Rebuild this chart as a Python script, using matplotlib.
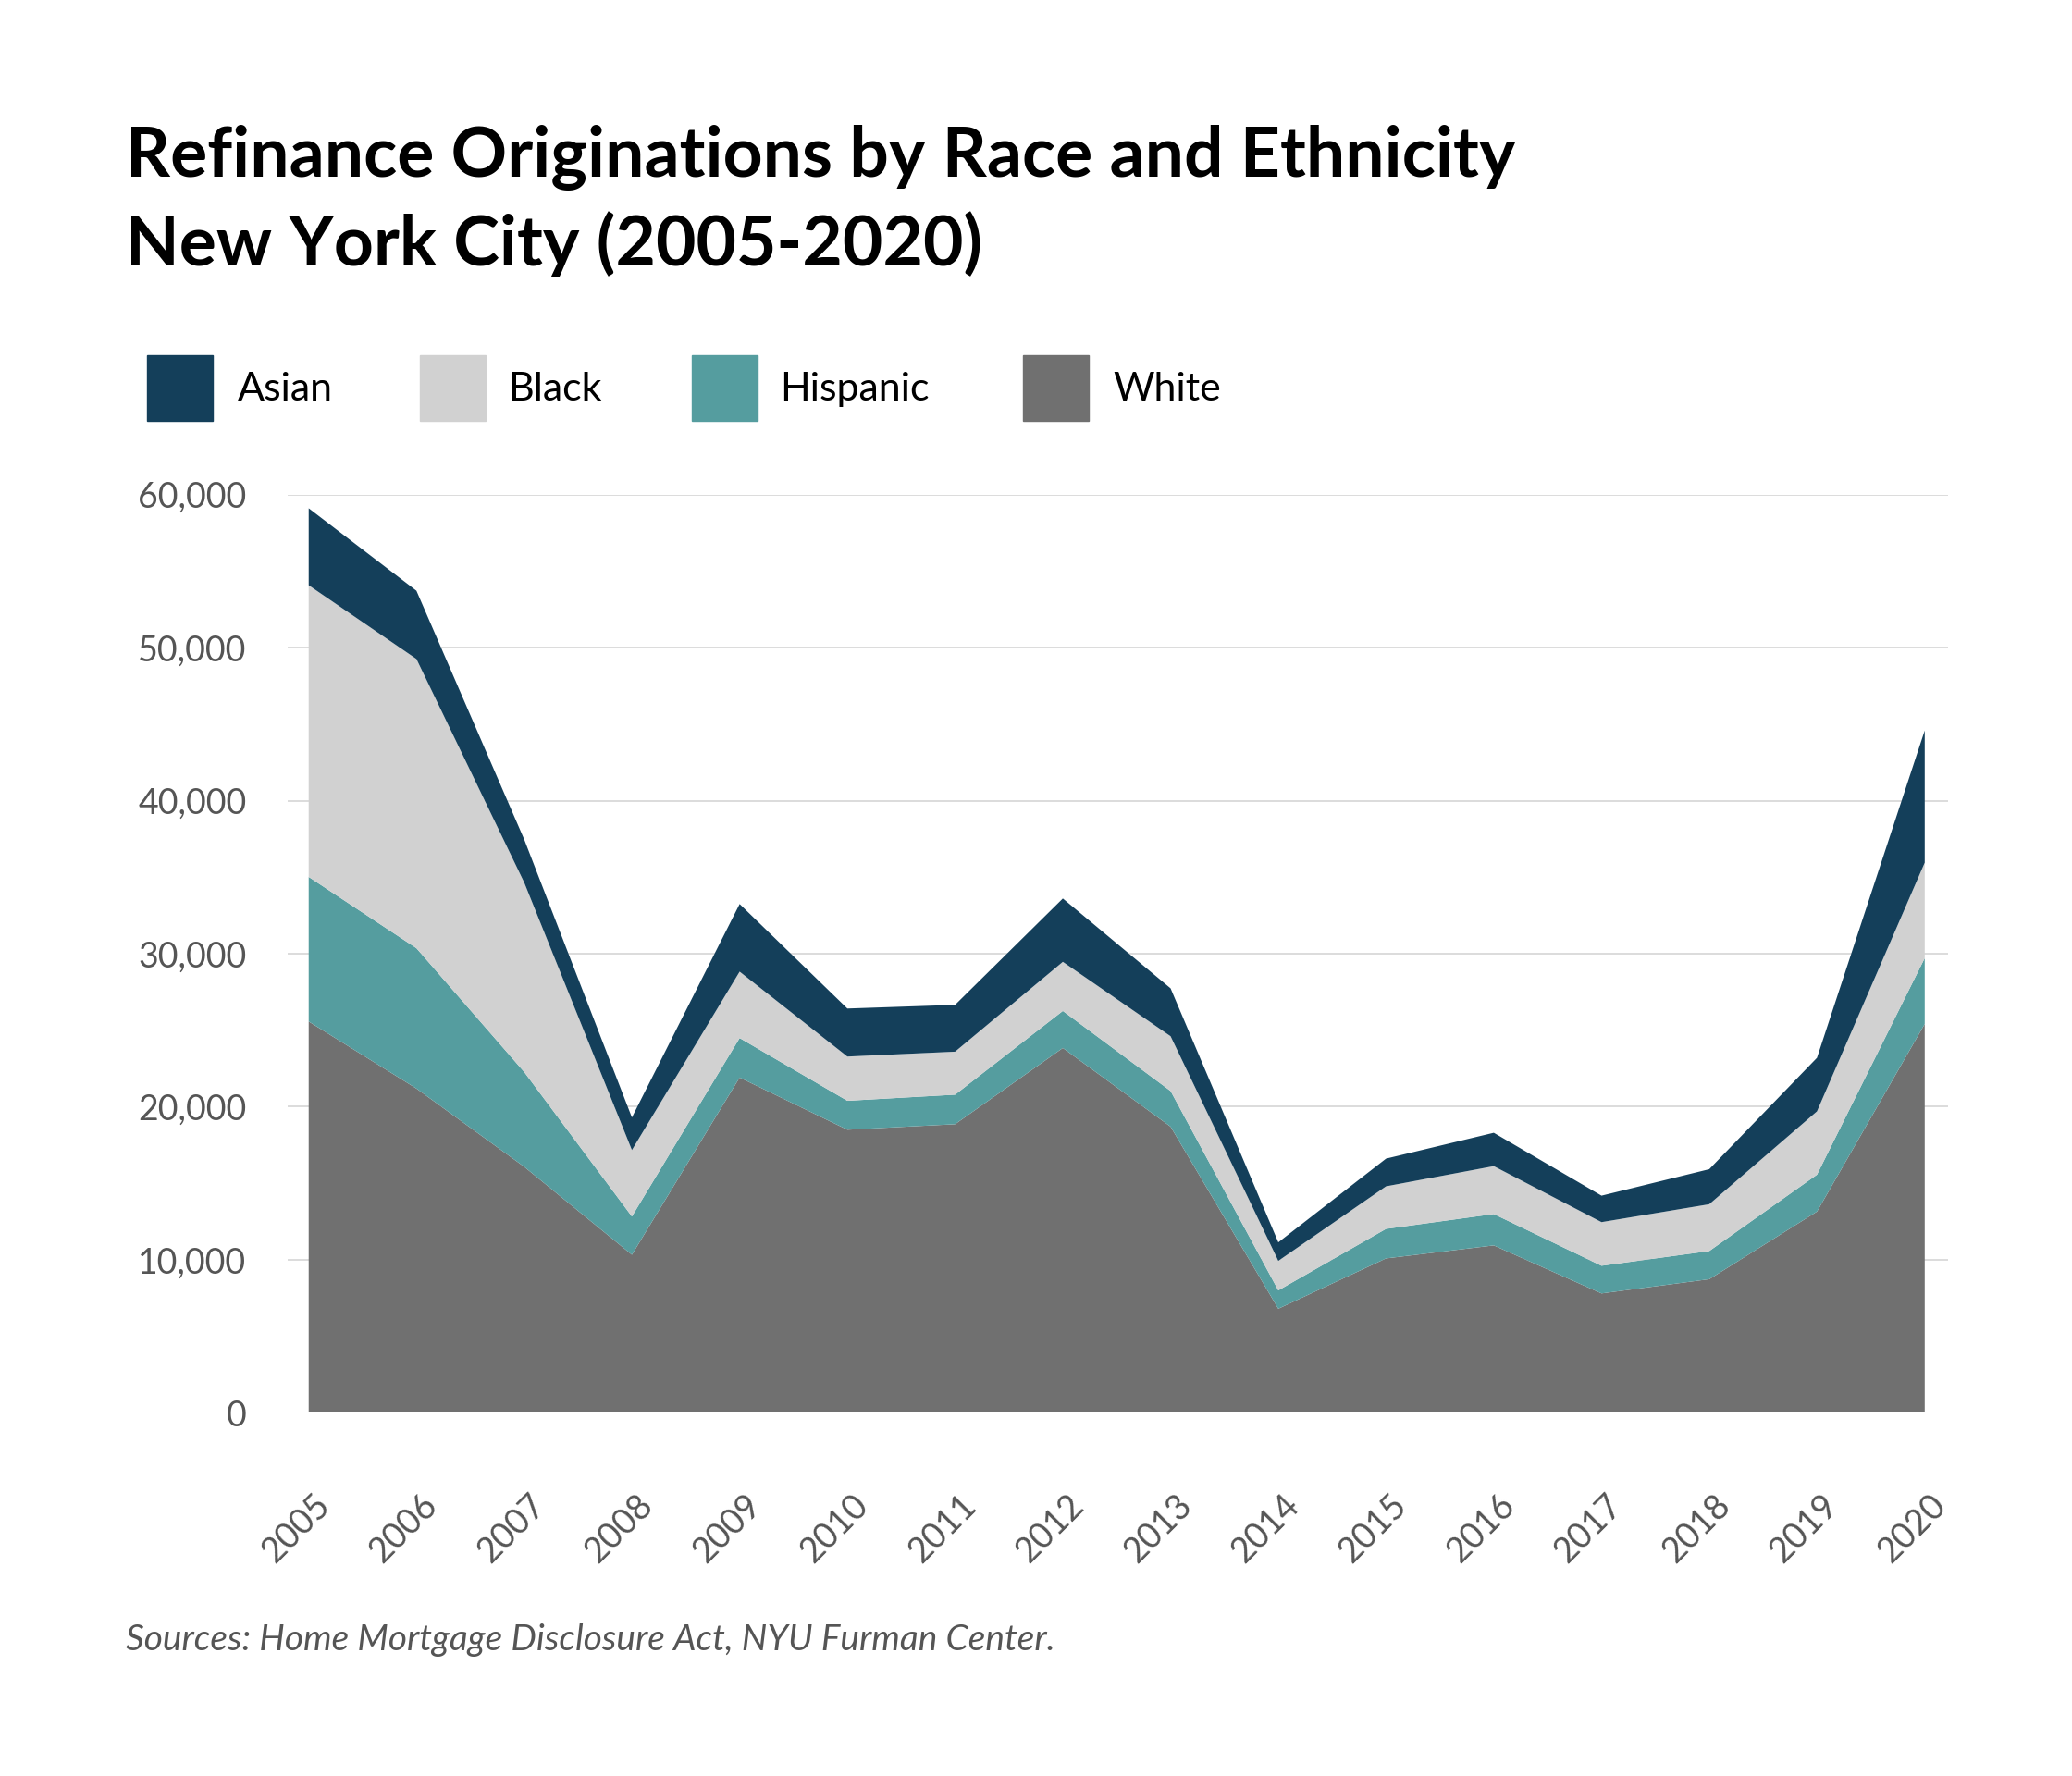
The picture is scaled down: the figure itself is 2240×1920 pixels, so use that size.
import matplotlib
matplotlib.use("Agg")
import matplotlib.pyplot as plt
from matplotlib.patches import Rectangle
from matplotlib.transforms import ScaledTranslation

# data
years = [2005, 2006, 2007, 2008, 2009, 2010, 2011, 2012,
         2013, 2014, 2015, 2016, 2017, 2018, 2019, 2020]
white = [25570, 21190, 16080, 10330, 21910, 18500, 18860, 23840,
         18700, 6800, 10090, 10940, 7800, 8730, 13150, 25410]
hispanic = [9450, 9170, 6195, 2500, 2580, 1890, 1930, 2420,
            2330, 1200, 1930, 2050, 1810, 1840, 2410, 4300]
black = [19060, 18900, 12385, 4340, 4340, 2890, 2810, 3210,
         3580, 1930, 2780, 3130, 2850, 3060, 4140, 6240]
asian = [5030, 4460, 2815, 2130, 4420, 3140, 3060, 4140,
         3130, 1210, 1810, 2180, 1730, 2290, 3500, 8640]
yticks = [0, 10000, 20000, 30000, 40000, 50000, 60000]

labels = ['Asian', 'Black', 'Hispanic', 'White']
colors = {'Asian': '#143f5a', 'Black': '#d1d1d1',
          'Hispanic': '#559d9f', 'White': '#707070'}

plt.rcParams['font.family'] = ['Lato', 'DejaVu Sans']

fig = plt.figure(figsize=(22.4, 19.2), dpi=100)
ax = fig.add_axes([0.1388, 0.2045, 0.940 - 0.1388, 0.7215 - 0.2045])

ax.stackplot(years, white, hispanic, black, asian,
             colors=[colors['White'], colors['Hispanic'], colors['Black'], colors['Asian']],
             linewidth=0, zorder=2)

ax.set_xlim(2004.804, 2020.213)
ax.set_ylim(0, 60000)
ax.set_yticks(yticks)
ax.set_yticklabels(['{:,}'.format(v) for v in yticks])
ax.set_xticks(years)
ax.set_xticklabels([str(y) for y in years])
ax.grid(axis='y', color='#d6d6d6', linewidth=1.2, zorder=0)
ax.set_axisbelow(True)
for s in ax.spines.values():
    s.set_visible(False)
ax.tick_params(axis='both', length=0, labelcolor='#555555', labelsize=27)
ax.tick_params(axis='y', pad=32)
ax.tick_params(axis='x', pad=68)
for lab in ax.get_xticklabels():
    lab.set_rotation(45)
    lab.set_ha('right')
    lab.set_va('center')
    lab.set_rotation_mode('anchor')
    lab.set_transform(lab.get_transform() + ScaledTranslation(0.17, 0, fig.dpi_scale_trans))

# title
fig.text(136 / 2240, 1 - 191 / 1920, 'Refinance Originations by Race and Ethnicity',
         fontsize=54, fontweight='bold', color='black', va='baseline')
fig.text(136 / 2240, 1 - 287 / 1920, 'New York City (2005-2020)',
         fontsize=54, fontweight='bold', color='black', va='baseline')

# legend
sq_x = [159, 454, 748, 1106]
txt_x = [257, 549, 843, 1203]
for lab, sx, tx in zip(labels, sq_x, txt_x):
    fig.patches.append(Rectangle((sx / 2240, 1 - 455 / 1920), 71 / 2240, 71 / 1920,
                                 transform=fig.transFigure, color=colors[lab]))
    fig.text(tx / 2240, 1 - 421 / 1920, lab, fontsize=31, color='black', va='center')

fig.text(136 / 2240, 1 - 1773 / 1920,
         'Sources: Home Mortgage Disclosure Act, NYU Furman Center.',
         fontsize=28, style='italic', color='#555555', va='center')

fig.savefig('out.png', dpi=100, facecolor='white')
